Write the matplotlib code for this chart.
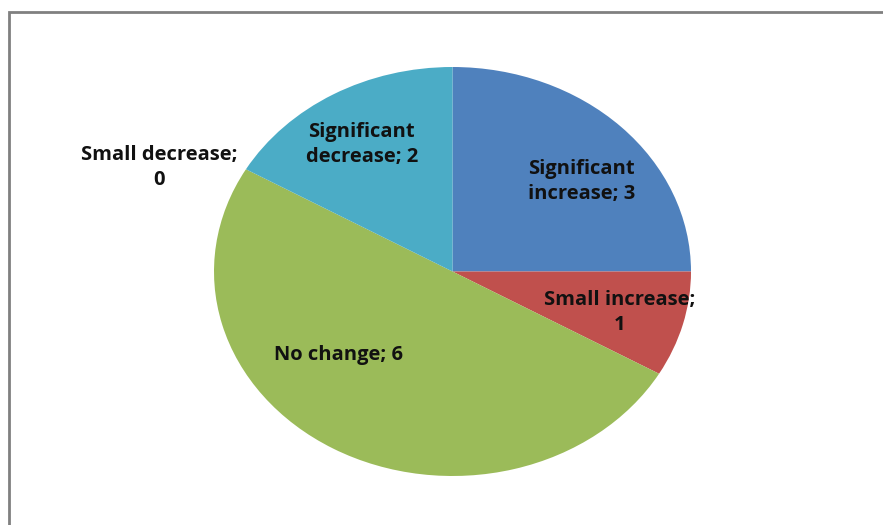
import matplotlib.pyplot as plt
from matplotlib.patches import Rectangle

plt.rcParams['font.family'] = ['Open Sans', 'DejaVu Sans']

categories = ['Significant increase', 'Small increase', 'No change',
              'Small decrease', 'Significant decrease']
values = [3, 1, 6, 0, 2]
colors = ['#4F81BD', '#C0504D', '#9BBB59', '#8064A2', '#4BACC6']

# label text placement (in pie units, radius = 1), two-line labels like Excel
label_text = ['Significant\nincrease; 3', 'Small increase;\n1', 'No change; 6',
              'Small decrease;\n0', 'Significant\ndecrease; 2']
label_pos = [(0.54, 0.44), (0.70, -0.20), (-0.48, -0.41),
             (-1.23, 0.51), (-0.38, 0.62)]

fig = plt.figure(figsize=(8.83, 5.25), dpi=100)

# chart area border (only top and left edges are visible in the crop)
fig.patches.append(Rectangle((9 / 883, -0.1), 1.2, (525 - 12) / 525 + 0.1,
                             transform=fig.transFigure, fill=False,
                             edgecolor='#808080', linewidth=2.0))

# the pie is an ellipse: let the axes stretch it
ax = fig.add_axes([214 / 883, (525 - 476) / 525, 477 / 883, 409 / 525])
ax.pie(values, colors=colors, startangle=90, counterclock=False,
       radius=1, wedgeprops=dict(linewidth=0))
ax.set_aspect('auto')
ax.set_xlim(-1, 1)
ax.set_ylim(-1, 1)
ax.axis('off')

for txt, (x, y) in zip(label_text, label_pos):
    ax.text(x, y, txt, ha='center', va='center', fontsize=14.5,
            fontweight='bold', color='#111111', linespacing=1.35, clip_on=False)

fig.savefig('out.png', dpi=100)
